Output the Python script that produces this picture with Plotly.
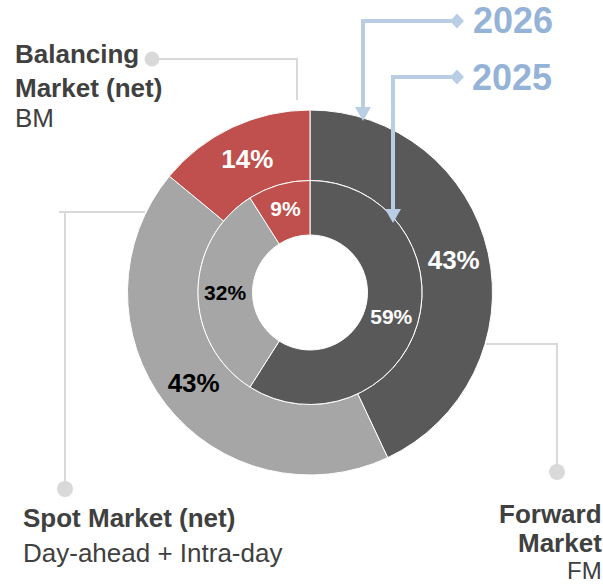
import plotly.graph_objects as go

# ---- data ----
categories = ["Forward Market", "Spot Market (net)", "Balancing Market (net)"]
share_2026 = [43, 43, 14]   # outer ring
share_2025 = [59, 32, 9]    # inner ring
slice_colors = ["#595959", "#A6A6A6", "#C0504D"]
text_colors = ["#FFFFFF", "#000000", "#FFFFFF"]
years = ["2026", "2025"]

W, H = 603, 584
FONT = "Arial, Liberation Sans, sans-serif"


def X(px):
    return px / W


def Y(py):
    return 1 - py / H


cx, cy = 310, 292.5
r_out, r_mid, r_hole = 182.5, 112, 57.5

fig = go.Figure()

fig.add_trace(go.Pie(
    labels=categories, values=share_2026, sort=False, direction="clockwise",
    rotation=0, hole=r_mid / r_out,
    domain=dict(x=[X(cx - r_out), X(cx + r_out)], y=[Y(cy + r_out), Y(cy - r_out)]),
    marker=dict(colors=slice_colors, line=dict(color="white", width=1)),
    texttemplate="<b>%{value}%</b>", textposition="inside",
    insidetextorientation="horizontal",
    textfont=dict(family=FONT, size=26, color=text_colors),
    hoverinfo="label+value", showlegend=False, name=years[0],
))

fig.add_trace(go.Pie(
    labels=categories, values=share_2025, sort=False, direction="clockwise",
    rotation=0, hole=r_hole / r_mid,
    domain=dict(x=[X(cx - r_mid), X(cx + r_mid)], y=[Y(cy + r_mid), Y(cy - r_mid)]),
    marker=dict(colors=slice_colors, line=dict(color="white", width=1)),
    texttemplate="<b>%{value}%</b>", textposition="inside",
    insidetextorientation="horizontal",
    textfont=dict(family=FONT, size=21, color=text_colors),
    hoverinfo="label+value", showlegend=False, name=years[1],
))

shapes = []
GRAY = "#D9D9D9"
BLUE = "#B9CDE5"


def path(points, color, width, layer="below", fill=None):
    d = "M " + " L ".join(f"{X(a):.5f},{Y(b):.5f}" for a, b in points)
    if fill:
        d += " Z"
    return dict(type="path", xref="paper", yref="paper", path=d,
                line=dict(color=color, width=width), fillcolor=fill, layer=layer)


def dot(x, y, r, color, layer="below"):
    return dict(type="circle", xref="paper", yref="paper",
                x0=X(x - r), x1=X(x + r), y0=Y(y + r), y1=Y(y - r),
                fillcolor=color, line=dict(width=0), layer=layer)


# grey connectors
shapes.append(path([(152, 59), (297, 59), (297, 100)], GRAY, 2))
shapes.append(dot(152, 59, 7.5, GRAY))
shapes.append(path([(59, 212), (145, 212)], GRAY, 2))
shapes.append(path([(65, 212), (65, 489)], GRAY, 2))
shapes.append(dot(65, 489, 8, GRAY))
shapes.append(path([(486, 344), (557, 344), (557, 472)], GRAY, 2))
shapes.append(dot(557, 472, 8, GRAY))

# blue year pointers
shapes.append(path([(457, 21), (363, 21), (363, 110)], BLUE, 4, layer="above"))
shapes.append(path([(355, 107), (371, 107), (363, 121)], BLUE, 0, layer="above", fill=BLUE))
shapes.append(path([(450, 21), (457, 13.5), (464, 21), (457, 28.5)], BLUE, 0, layer="above", fill=BLUE))
shapes.append(path([(457, 77), (393, 77), (393, 212)], BLUE, 4, layer="above"))
shapes.append(path([(385, 209), (401, 209), (393, 223)], BLUE, 0, layer="above", fill=BLUE))
shapes.append(path([(450, 77), (457, 69.5), (464, 77), (457, 84.5)], BLUE, 0, layer="above", fill=BLUE))

annotations = []
TXT = "#404040"


def ann(text, x, y, size, xanchor="left", color=TXT, bold=False):
    t = f"<b>{text}</b>" if bold else text
    annotations.append(dict(text=t, x=X(x), y=Y(y), xref="paper", yref="paper",
                            xanchor=xanchor, yanchor="middle", showarrow=False,
                            font=dict(family=FONT, size=size, color=color)))


ann("Balancing", 13, 54, 26, bold=True)
ann("Market (net)", 13, 88, 26, bold=True)
ann("BM", 13, 118, 26)
ann("Spot Market (net)", 21, 518, 26, bold=True)
ann("Day-ahead + Intra-day", 21, 553, 26)
ann("Forward", 604, 514, 26, xanchor="right", bold=True)
ann("Market", 604, 543, 26, xanchor="right", bold=True)
ann("FM", 604, 570, 24, xanchor="right")
ann(years[0], 471, 20, 36, color="#95B3D7", bold=True)
ann(years[1], 470, 77, 36, color="#95B3D7", bold=True)

fig.update_layout(
    width=W, height=H, margin=dict(l=0, r=0, t=0, b=0),
    paper_bgcolor="white", plot_bgcolor="white",
    shapes=shapes, annotations=annotations,
    font=dict(family=FONT),
)

fig.write_html("out.html", config={"displayModeBar": False},
               post_script="document.body.style.margin='0px';document.body.style.overflow='hidden';")
